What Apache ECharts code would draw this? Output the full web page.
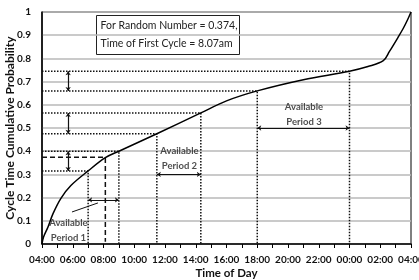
<!DOCTYPE html>
<html>
<head>
<meta charset="utf-8">
<script src="https://cdn.jsdelivr.net/npm/echarts@6/dist/echarts.min.js"></script>
<style>
  html, body { margin: 0; padding: 0; background: #fff; }
  #chart { width: 419px; height: 280px; }
</style>
</head>
<body>
<div id="chart"></div>
<script>
// cumulative cycle time curve (hours from 04:00 of day one, through 04:00 next day)
var hours = [4, 4.1, 4.39, 4.71, 5.23, 5.88, 7.0, 8.12, 9.0, 11.47, 14.33, 16.0, 18.0, 21.0, 24.0, 25.2, 26.2, 26.6, 27.15, 27.5, 27.8, 28];
var probs = [0, 0.03, 0.073, 0.13, 0.197, 0.252, 0.315, 0.372, 0.40, 0.475, 0.565, 0.617, 0.66, 0.708, 0.745, 0.765, 0.79, 0.83, 0.89, 0.93, 0.97, 1];

// dotted guides: start / end of each available period
var guideTimes = [7, 9, 11.47, 14.33, 18, 24];
var guideProbs = [0.315, 0.40, 0.475, 0.565, 0.66, 0.745];

// period arrows
var periodStart = [7, 11.47, 18];
var periodEnd = [9, 14.33, 24];
var periodArrowY = [0.19, 0.30, 0.5];
var periodNames = ['Available\nPeriod 1', 'Available\nPeriod 2', 'Available\nPeriod 3'];
var periodLabelX = [5.72, 12.94, 21.04];
var periodLabelY = [0.06, 0.368, 0.56];

var randomNumber = 0.374;
var firstCycle = 8.12;
var rangeArrowX = 5.7;

var chart = echarts.init(document.getElementById('chart'));

var series = [];

// guide polylines
for (var i = 0; i < guideTimes.length; i++) {
  series.push({
    type: 'line', silent: true, symbol: 'none', z: 3,
    lineStyle: { color: '#111', width: 1.5, type: [1.5, 1.5] },
    data: [[4, guideProbs[i]], [guideTimes[i], guideProbs[i]], [guideTimes[i], 0]]
  });
}

// arrows drawn with lines series
var arrowData = [];
for (var k = 0; k < 3; k++) {
  arrowData.push({ coords: [[periodStart[k], periodArrowY[k]], [periodEnd[k], periodArrowY[k]]] });
  arrowData.push({ coords: [[rangeArrowX, guideProbs[2 * k]], [rangeArrowX, guideProbs[2 * k + 1]]] });
}
series.push({
  type: 'lines', coordinateSystem: 'cartesian2d', silent: true, z: 4,
  symbol: ['arrow', 'arrow'], symbolSize: 4,
  lineStyle: { color: '#111', width: 1.2, opacity: 1 },
  data: arrowData
});

// random number pick: dashed with arrow to the time axis
series.push({
  type: 'lines', coordinateSystem: 'cartesian2d', polyline: true, silent: true, z: 4,
  symbol: ['none', 'arrow'], symbolSize: 5,
  lineStyle: { color: '#111', width: 1.5, type: [5, 3], opacity: 1 },
  data: [{ coords: [[4, randomNumber], [firstCycle, randomNumber], [firstCycle, 0.01]] }]
});

// pointer from period 1 label to its arrow
series.push({
  type: 'lines', coordinateSystem: 'cartesian2d', silent: true, z: 4,
  symbol: ['none', 'none'],
  lineStyle: { color: '#111', width: 1, opacity: 1 },
  data: [{ coords: [[5.95, 0.138], [7.64, 0.177]] }]
});

// period labels
series.push({
  type: 'scatter', silent: true, symbolSize: 0, z: 5,
  data: periodNames.map(function (n, j) { return { value: [periodLabelX[j], periodLabelY[j]], name: n }; }),
  label: {
    show: true, position: 'inside', formatter: '{b}',
    fontFamily: 'Lato', fontWeight: 'bold', fontSize: 9.5, lineHeight: 15,
    color: '#222', align: 'center'
  }
});

// main curve
series.push({
  type: 'line', silent: true, symbol: 'none', smooth: 0.35, z: 6,
  lineStyle: { color: '#000', width: 1.5 },
  data: hours.map(function (h, j) { return [h, probs[j]]; })
});

chart.setOption({
  animation: false,
  grid: { left: 42, right: 8, top: 12, bottom: 36, outerBoundsMode: 'none', show: true, borderColor: '#000', borderWidth: 1 },
  xAxis: {
    type: 'value', min: 4, max: 28, interval: 2,
    name: 'Time of Day', nameLocation: 'middle', nameGap: 23, nameMoveOverlap: false,
    nameTextStyle: { fontFamily: 'Lato', fontWeight: 'bold', fontSize: 11.5, color: '#111' },
    axisLine: { lineStyle: { color: '#000', width: 1.5 } },
    axisTick: { show: true, length: 4, lineStyle: { color: '#000' } },
    minorTick: { show: true, splitNumber: 2, length: 4, lineStyle: { color: '#000' } },
    splitLine: { show: false },
    axisLabel: {
      margin: 11, fontFamily: 'Lato', fontWeight: 'bold', fontSize: 10, color: '#111',
      formatter: function (v) { var h = Math.round(v) % 24; return (h < 10 ? '0' : '') + h + ':00'; }
    }
  },
  yAxis: {
    type: 'value', min: 0, max: 1, interval: 0.1,
    name: 'Cycle Time Cumulative Probability', nameLocation: 'middle', nameGap: 26, nameMoveOverlap: false,
    nameTextStyle: { fontFamily: 'Lato', fontWeight: 'bold', fontSize: 12, color: '#111' },
    axisLine: { show: true, lineStyle: { color: '#000', width: 1.5 } },
    axisTick: { show: false },
    splitLine: { lineStyle: { color: '#b8b8b8', width: 1.5 } },
    axisLabel: {
      margin: 11, fontFamily: 'Lato', fontWeight: 'bold', fontSize: 10, color: '#111',
      formatter: function (v) { return String(parseFloat(v.toFixed(1))); }
    }
  },
  graphic: [{
    type: 'group', left: 96, top: 15, z: 10,
    children: [
      { type: 'rect', shape: { x: 0, y: 0, width: 143, height: 39 }, style: { fill: '#fff', stroke: '#222', lineWidth: 1 } },
      { type: 'text', style: { x: 4, y: 5, text: 'For Random Number = ' + randomNumber + ',', font: '10.5px Lato', fill: '#222' } },
      { type: 'text', style: { x: 4, y: 23, text: 'Time of First Cycle = 8.07am', font: '10.5px Lato', fill: '#222' } }
    ]
  }],
  series: series
});
</script>
</body>
</html>
